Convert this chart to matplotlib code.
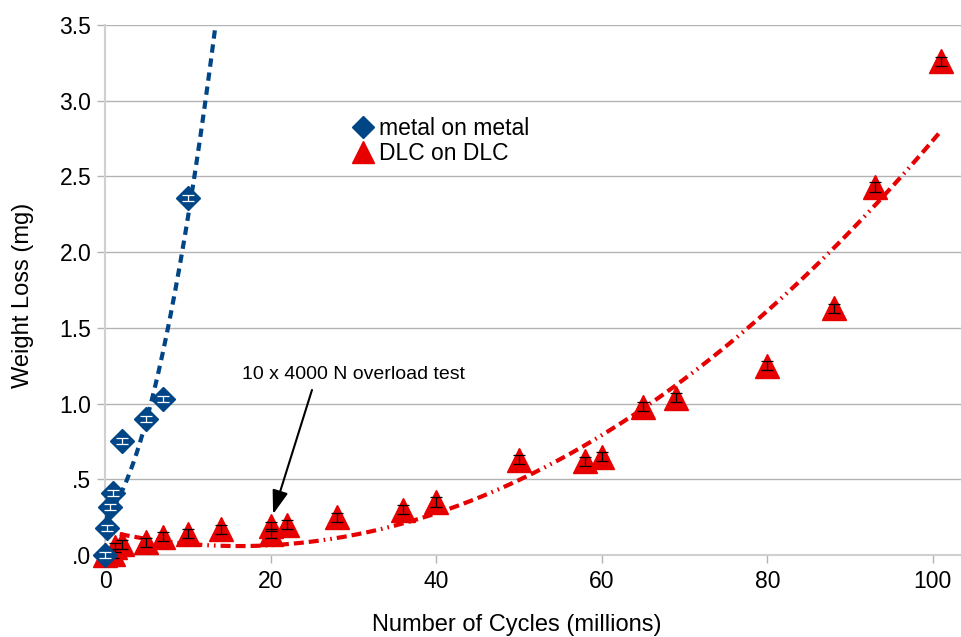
import numpy as np
import matplotlib
matplotlib.use("Agg")
import matplotlib.pyplot as plt
from matplotlib.ticker import FuncFormatter

# ---- data ----
metal_x = [0, 0.25, 0.6, 1, 2, 5, 7, 10]
metal_y = [0.0, 0.18, 0.32, 0.41, 0.75, 0.90, 1.03, 2.36]
metal_err = [0.02, 0.02, 0.02, 0.02, 0.02, 0.02, 0.02, 0.02]

dlc_x = [0, 1, 1.2, 2, 5, 7, 10, 14, 20, 20, 22, 28, 36, 40, 50, 58, 60, 65, 69, 80, 88, 93, 101]
dlc_y = [0.0, 0.01, 0.05, 0.07, 0.085, 0.12, 0.14, 0.17, 0.19, 0.14, 0.20, 0.25, 0.30, 0.35,
         0.63, 0.62, 0.65, 0.98, 1.04, 1.25, 1.63, 2.43, 3.26]
dlc_err = [0.03] * len(dlc_x)

legend_labels = ["metal on metal", "DLC on DLC"]
annot_text = "10 x 4000 N overload test"
xlabel = "Number of Cycles (millions)"
ylabel = "Weight Loss (mg)"
xticks = [0, 20, 40, 60, 80, 100]
yticks = [0, 0.5, 1.0, 1.5, 2.0, 2.5, 3.0, 3.5]

BLUE = "#004586"
RED = "#e60000"

plt.rcParams['font.family'] = ['Liberation Sans', 'DejaVu Sans']

fig = plt.figure(figsize=(9.61, 6.37), dpi=100)
ax = fig.add_axes([0.1093, 0.1287, 0.8907, 0.8321])

# trend lines (polynomial fits)
pm = np.polyfit(metal_x, metal_y, 2)
xm = np.linspace(0, 15, 300)
ax.plot(xm, np.polyval(pm, xm), color=BLUE, lw=3, dashes=(2.0, 1.4), zorder=3)

pd_ = np.polyfit(dlc_x, dlc_y, 2)
xd = np.linspace(0, 101, 400)
ax.plot(xd, np.polyval(pd_, xd), color=RED, lw=3,
        dashes=(2.4, 1.2, 2.4, 1.2, 2.4, 1.2, 0.4, 1.2, 0.4, 1.2), zorder=3)

# markers
ax.plot(dlc_x, dlc_y, linestyle='none', marker='^', ms=17, color=RED,
        mec=RED, clip_on=False, zorder=4, label=legend_labels[1])
ax.errorbar(dlc_x, dlc_y, yerr=dlc_err, fmt='none', ecolor='black', elinewidth=0.9,
            capsize=4, capthick=0.9, clip_on=False, zorder=5)
ax.plot(metal_x, metal_y, linestyle='none', marker='D', ms=12.5, color=BLUE,
        mec=BLUE, clip_on=False, zorder=6, label=legend_labels[0])
ax.errorbar(metal_x, metal_y, yerr=metal_err, fmt='none', ecolor='white', elinewidth=0.9,
            capsize=4, capthick=0.9, clip_on=False, zorder=7)

ax.set_xlim(0, 103.4)
ax.set_ylim(0, 3.5)
ax.set_xticks(xticks)
ax.set_yticks(yticks)

def yfmt(v, pos):
    s = f"{v:.1f}"
    if s.startswith("0"):
        s = s[1:]
    return s
ax.yaxis.set_major_formatter(FuncFormatter(yfmt))

ax.grid(axis='y', color='#b3b3b3', lw=1)
ax.set_axisbelow(True)
for s in ['top', 'right']:
    ax.spines[s].set_visible(False)
for s in ['left', 'bottom']:
    ax.spines[s].set_color('#d0d0d0')
    ax.spines[s].set_linewidth(1.5)
ax.tick_params(axis='both', colors='#b3b3b3', labelcolor='black', labelsize=16.5,
               length=6, width=1)
ax.tick_params(axis='x', pad=5)
ax.tick_params(axis='y', pad=4)

ax.set_xlabel(xlabel, fontsize=17)
ax.xaxis.set_label_coords(0.481, -0.112)
ax.set_ylabel(ylabel, fontsize=17)
ax.yaxis.set_label_coords(-0.083, 0.49)

# legend
h, l = ax.get_legend_handles_labels()
order = [1, 0]
leg = ax.legend([h[i] for i in order], [l[i] for i in order], loc='upper left',
                bbox_to_anchor=(0.266, 0.866), frameon=False, fontsize=16.5,
                handlelength=0.8, handletextpad=0.3, labelspacing=0.12,
                markerscale=0.9)

# annotation
ax.text(30.0, 1.19, annot_text, fontsize=14, ha='center', va='center')
ax.annotate("", xy=(20.3, 0.27), xytext=(25.0, 1.09),
            arrowprops=dict(arrowstyle='-|>,head_length=0.9,head_width=0.3',
                            color='black', lw=1.5,
                            mutation_scale=16, shrinkA=0, shrinkB=0))

fig.savefig("out.png", dpi=100)
